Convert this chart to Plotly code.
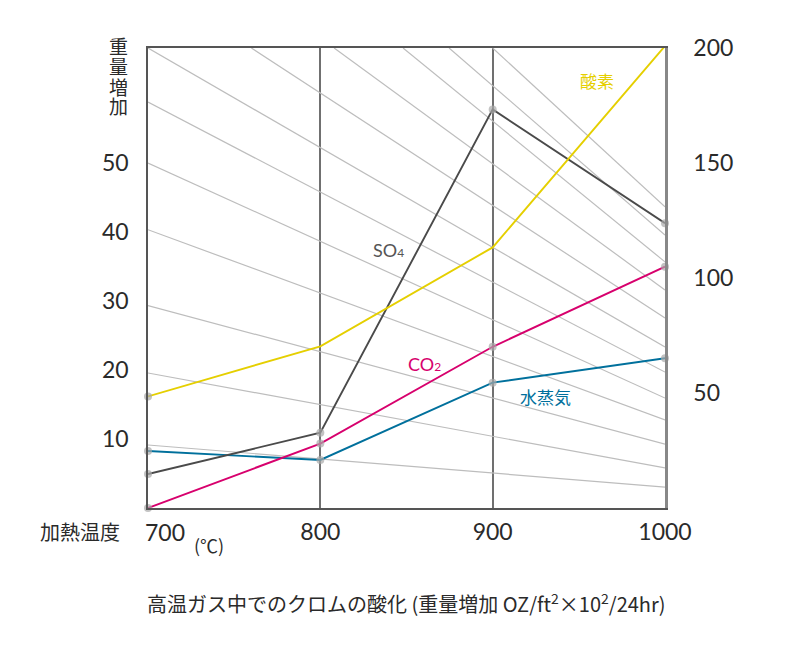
import plotly.graph_objects as go

# ---- data ----
temps = [700, 800, 900, 1000]
oxygen_x = [700, 800, 900, 1003]
oxygen = [48.5, 70.3, 113.3, 203.5]
so4 = [14.8, 32.7, 173.3, 123.8]
co2 = [0.0, 28.0, 70.1, 104.9]
steam = [24.8, 20.9, 54.5, 65.1]

left_ticks = [10, 20, 30, 40, 50]
right_ticks = [50, 100, 150, 200]
x_ticks = [800, 900, 1000]

# background guide lines (nomogram), start (x, y) -> end at x=1000
guide_x0 = [900, 874.7, 848, 808, 760, 700, 700, 700, 700, 700, 700, 700]
guide_y0 = [200, 200, 200, 200, 200, 200, 176.5, 150, 121, 88, 58.7, 27.4]
guide_y1 = [131, 118.7, 107, 94.8, 82.6, 70, 59.1, 47.8, 38.3, 27.8, 17.4, 9.1]
guide_x1 = 1000

FONT = "Noto Sans CJK JP"
NUMFONT = "Lato"
YELLOW = "#e5cf00"
MAGENTA = "#d7006d"
BLUE = "#00709c"
DARK = "#4a4a4a"
DOT = "#aaaaaa"
TXT = "#2a2a2a"
NUM = 23

fig = go.Figure()

# anchor trace for the left axis
fig.add_trace(go.Scatter(x=[None], y=[None], yaxis="y", mode="lines",
                         showlegend=False, hoverinfo="skip"))

gx, gy = [], []
for x0, y0, y1 in zip(guide_x0, guide_y0, guide_y1):
    gx += [x0, guide_x1, None]
    gy += [y0, y1, None]
fig.add_trace(go.Scatter(x=gx, y=gy, mode="lines", yaxis="y2",
                         line=dict(color="#bdbdbd", width=1.2),
                         hoverinfo="skip", showlegend=False))

def series(x, y, color, sizes):
    fig.add_trace(go.Scatter(x=x, y=y, mode="lines+markers", yaxis="y2",
                             line=dict(color=color, width=1.9),
                             marker=dict(color=DOT, size=sizes, line=dict(width=0)),
                             cliponaxis=False, showlegend=False))

series(temps, steam, BLUE, [8, 8, 8, 8])
series(temps, co2, MAGENTA, [8, 8, 8, 8])
series(temps, so4, DARK, [8, 8, 8, 8])
series(oxygen_x, oxygen, YELLOW, [8, 0, 0, 8])

annotations = [
    dict(x=960.6, y=186, text="酸素", font=dict(color=YELLOW, size=17, family=FONT)),
    dict(x=839.3, y=112.2, text="SO<span style='font-size:12px'>4</span>",
         font=dict(color="#555", size=18, family=NUMFONT)),
    dict(x=860.2, y=62.6, text="CO<span style='font-size:12px'>2</span>",
         font=dict(color=MAGENTA, size=18, family=NUMFONT)),
    dict(x=930.4, y=48.3, text="水蒸気", font=dict(color=BLUE, size=17, family=FONT)),
]
for a in annotations:
    a.update(xref="x", yref="y2", showarrow=False)
    fig.add_annotation(**a)

# left axis title stacked
for i, yy in enumerate([1.0065, 0.961, 0.917, 0.874]):
    fig.add_annotation(xref="paper", yref="paper", x=-0.058, y=yy,
                       text="重量増加"[i], showarrow=False, xanchor="center", yanchor="middle",
                       font=dict(family=FONT, size=19, color=TXT))

fig.add_annotation(xref="paper", yref="paper", x=-0.1315, y=-0.052, text="加熱温度",
                   showarrow=False, xanchor="center", yanchor="middle",
                   font=dict(family=FONT, size=20, color=TXT))
fig.add_annotation(xref="x", yref="paper", x=700, xshift=17, y=-0.052, text="700",
                   showarrow=False, xanchor="center", yanchor="middle",
                   font=dict(family=NUMFONT, size=NUM, color=TXT))
fig.add_annotation(xref="x", yref="paper", x=700, xshift=61, y=-0.080, text="(℃)",
                   showarrow=False, xanchor="center", yanchor="middle",
                   font=dict(family=FONT, size=18, color=TXT))
fig.add_annotation(xref="paper", yref="paper", x=0.5, y=-0.207,
                   text="高温ガス中でのクロムの酸化 (重量増加 OZ/ft<sup>2</sup>×10<sup>2</sup>/24hr)",
                   showarrow=False, xanchor="center", yanchor="middle",
                   font=dict(family=FONT, size=20, color=TXT))

fig.update_layout(
    width=792, height=641,
    margin=dict(l=140, r=135, t=40, b=141),
    paper_bgcolor="white", plot_bgcolor="white",
    font=dict(family=FONT, color=TXT),
    xaxis=dict(range=[700, 1000], tickvals=x_ticks, ticktext=[str(v) for v in x_ticks],
               showgrid=True, gridcolor="#707070", gridwidth=1.5,
               showline=True, linecolor="#555", linewidth=1.5, mirror=True,
               ticks="", zeroline=False, tickfont=dict(family=NUMFONT, size=NUM, color=TXT),
               ticklabelstandoff=3, automargin=False),
    yaxis=dict(range=[0, 200 / 3], tickvals=left_ticks, showgrid=False, zeroline=False,
               showline=True, linecolor="#555", linewidth=1.5, ticks="",
               tickfont=dict(family=NUMFONT, size=NUM, color=TXT), ticklabelstandoff=13,
               automargin=False),
    yaxis2=dict(range=[0, 200], tickvals=right_ticks, overlaying="y", side="right",
                showgrid=False, zeroline=False, showline=True, linecolor="#888",
                linewidth=2.5, ticks="", tickfont=dict(family=NUMFONT, size=NUM, color=TXT),
                ticklabelstandoff=21, automargin=False),
)

fig.write_html("out.html")
